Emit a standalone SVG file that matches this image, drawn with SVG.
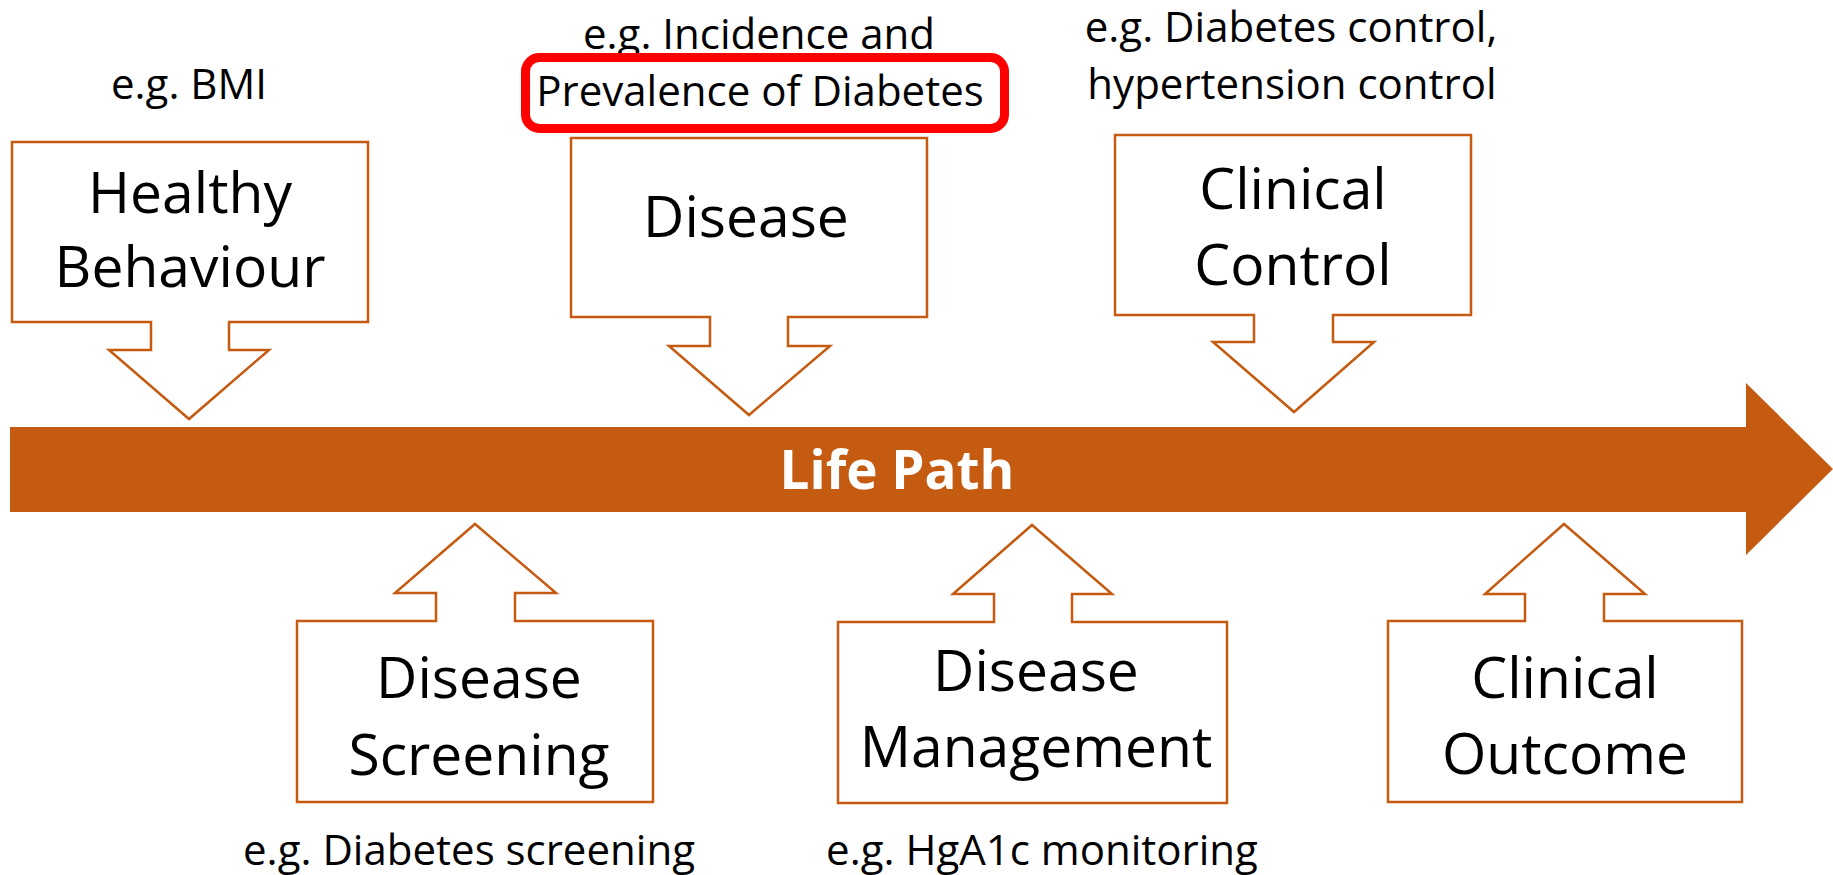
<svg xmlns="http://www.w3.org/2000/svg" width="1833" height="875" viewBox="0 0 1833 875">
<style>
.box{fill:#fff;stroke:#C55A11;stroke-width:2.5}
.big{font-family:"Open Sans","Noto Sans",sans-serif;font-size:57px;fill:#000;text-anchor:middle}
.small{font-family:"Open Sans","Noto Sans",sans-serif;font-size:42px;fill:#000;text-anchor:middle}
.bar{fill:#C55A11}
.title{font-family:"Open Sans","Noto Sans",sans-serif;font-size:53px;font-weight:bold;fill:#fff;text-anchor:middle}
</style>
<rect width="1833" height="875" fill="#fff"/>
<g id="connectors">
<g id="life-path">
<path class="bar" d="M10,427 H1746 V383 L1833,469 L1746,555 V512 H10 Z"/>
<text class="title" x="897" y="489">Life Path</text>
</g>
</g>
<g id="healthy-behaviour">
<path class="box" d="M12,142 H368 V322 H229 V350 H269 L189,419 L109,350 H151 V322 H12 Z"/>
<text class="big" x="190" y="213">Healthy</text>
<text class="big" x="190" y="287">Behaviour</text>
<text class="small" x="189" y="99">e.g. BMI</text>
</g>
<g id="disease">
<path class="box" d="M571,138 H927 V317 H788 V346 H830 L749,415 L669,346 H710 V317 H571 Z"/>
<text class="big" x="746" y="237">Disease</text>
<text class="small" x="759" y="49">e.g. Incidence and</text>
<text class="small" x="760" y="106">Prevalence of Diabetes</text>
<rect x="525.5" y="57.5" width="479" height="71" rx="14" fill="none" stroke="#FF0000" stroke-width="9"/>
</g>
<g id="clinical-control">
<path class="box" d="M1115,135 H1471 V315 H1333 V342 H1374 L1294,412 L1213,342 H1254 V315 H1115 Z"/>
<text class="big" x="1293" y="209">Clinical</text>
<text class="big" x="1293" y="285">Control</text>
<text class="small" x="1291" y="42">e.g. Diabetes control,</text>
<text class="small" x="1292" y="99">hypertension control</text>
</g>
<g id="disease-screening">
<path class="box" d="M297,621 H436 V593 H395 L475,524 L556,593 H515 V621 H653 V802 H297 Z"/>
<text class="big" x="479" y="698">Disease</text>
<text class="big" x="479" y="775">Screening</text>
<text class="small" x="469" y="865">e.g. Diabetes screening</text>
</g>
<g id="disease-management">
<path class="box" d="M838,622 H994 V594 H953 L1032,525 L1112,594 H1072 V622 H1227 V803 H838 Z"/>
<text class="big" x="1036" y="691">Disease</text>
<text class="big" x="1036" y="767">Management</text>
<text class="small" x="1042" y="865">e.g. HgA1c monitoring</text>
</g>
<g id="clinical-outcome">
<path class="box" d="M1388,621 H1525 V594 H1485 L1564,524 L1645,594 H1604 V621 H1742 V802 H1388 Z"/>
<text class="big" x="1565" y="698">Clinical</text>
<text class="big" x="1565" y="774">Outcome</text>
</g>
</svg>
